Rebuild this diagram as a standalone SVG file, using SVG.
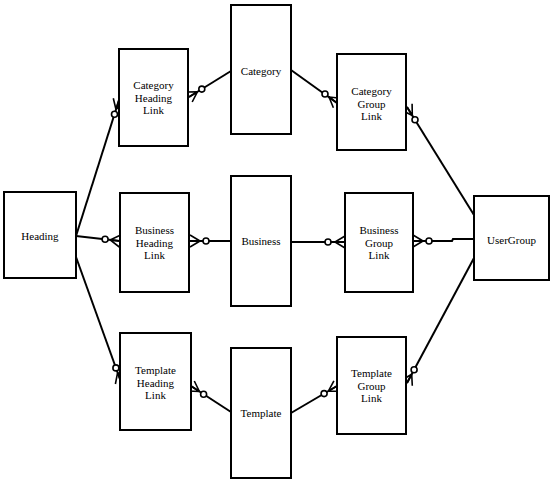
<svg xmlns="http://www.w3.org/2000/svg" width="553" height="483" viewBox="0 0 553 483">
<style>
.box{fill:#fff;stroke:#000;stroke-width:2}
.t{font-family:"Liberation Serif","Times New Roman",serif;font-size:11px;fill:#000;text-anchor:middle}
.ln{fill:none;stroke:#000;stroke-width:2}
.ft{fill:none;stroke:#000;stroke-width:1.6}
.c{fill:#fff;stroke:#000;stroke-width:1.6}
</style>
<rect width="553" height="483" fill="#fff"/>
<g id="connectors">
<!-- Heading - CHL -->
<path class="ln" d="M76,236 L119,100"/>
<path class="ft" d="M116,109.5 L119,100 M116,109.5 L124.7,101.8 M116,109.5 L113.3,98.2"/>
<circle class="c" cx="114.5" cy="114.3" r="3"/>
<!-- Heading - BHL -->
<path class="ln" d="M76,236 L120,241"/>
<path class="ft" d="M110.1,239.9 L120,241 M110.1,239.9 L119.3,247 M110.1,239.9 L120.7,235"/>
<circle class="c" cx="105.1" cy="239.3" r="3"/>
<!-- Heading - THL -->
<path class="ln" d="M76,257 L121,382"/>
<path class="ft" d="M117.6,372.6 L121,382 M117.6,372.6 L115.4,384 M117.6,372.6 L126.6,380"/>
<circle class="c" cx="115.9" cy="367.9" r="3"/>
<!-- Category - CHL -->
<path class="ln" d="M231,71 L189,97"/>
<path class="ft" d="M197.5,91.7 L189,97 M197.5,91.7 L192.2,102 M197.5,91.7 L185.8,92"/>
<circle class="c" cx="201.8" cy="89.1" r="3"/>
<!-- Category - CGL -->
<path class="ln" d="M291,70 L337,103"/>
<path class="ft" d="M329,97 L337,103 M329,97 L333.4,107.8 M329,97 L340.6,98.2"/>
<circle class="c" cx="325" cy="94" r="3"/>
<!-- UserGroup - CGL -->
<path class="ln" d="M474,215 L407,107"/>
<path class="ft" d="M412.3,115.5 L407,107 M412.3,115.5 L412.1,103.8 M412.3,115.5 L401.9,110.2"/>
<circle class="c" cx="415" cy="119.7" r="3"/>
<!-- Business - BHL -->
<path class="ln" d="M231,241 L190,241"/>
<path class="ft" d="M200,241 L190,241 M200,241 L190,235 M200,241 L190,247"/>
<circle class="c" cx="206" cy="241" r="3"/>
<!-- Business - BGL -->
<path class="ln" d="M291,242 L345,242"/>
<path class="ft" d="M335,242 L345,242 M335,242 L345,236 M335,242 L345,248"/>
<circle class="c" cx="328" cy="242" r="3"/>
<!-- UserGroup - BGL -->
<path class="ln" d="M474,239 L453,239 L452,241 L413,241"/>
<path class="ft" d="M423,241 L413,241 M423,241 L413,235 M423,241 L413,247"/>
<circle class="c" cx="429" cy="241" r="3"/>
<!-- Template - THL -->
<path class="ln" d="M231,412 L191,386"/>
<path class="ft" d="M199.4,391.5 L191,386 M199.4,391.5 L194.3,381 M199.4,391.5 L187.7,391"/>
<circle class="c" cx="203.6" cy="394.2" r="3"/>
<!-- Template - TGL -->
<path class="ln" d="M291,413 L337,386"/>
<path class="ft" d="M328.4,391.1 L337,386 M328.4,391.1 L340.1,391.2 M328.4,391.1 L333.9,380.8"/>
<circle class="c" cx="324.1" cy="393.6" r="3"/>
<!-- UserGroup - TGL -->
<path class="ln" d="M474,258 L407,383"/>
<path class="ft" d="M411.7,374.2 L407,383 M411.7,374.2 L401.7,380.2 M411.7,374.2 L412.3,385.8"/>
<circle class="c" cx="414.1" cy="369.8" r="3"/>
</g>
<g id="heading"><rect class="box" x="4" y="192" width="72" height="86"/><text class="t" x="40" y="240">Heading</text></g>
<g id="category-heading-link"><rect class="box" x="119" y="49" width="69" height="97"/><text class="t" x="153.5" y="89">Category</text><text class="t" x="153.5" y="101.5">Heading</text><text class="t" x="153.5" y="114">Link</text></g>
<g id="category"><rect class="box" x="231" y="5" width="60" height="129"/><text class="t" x="261" y="75">Category</text></g>
<g id="category-group-link"><rect class="box" x="337" y="54" width="69" height="96"/><text class="t" x="371.5" y="95">Category</text><text class="t" x="371.5" y="107.5">Group</text><text class="t" x="371.5" y="120">Link</text></g>
<g id="business-heading-link"><rect class="box" x="120" y="193" width="69" height="99"/><text class="t" x="154.5" y="234">Business</text><text class="t" x="154.5" y="246.5">Heading</text><text class="t" x="154.5" y="259">Link</text></g>
<g id="business"><rect class="box" x="231" y="176" width="60" height="130"/><text class="t" x="261" y="245">Business</text></g>
<g id="business-group-link"><rect class="box" x="345" y="193" width="68" height="99"/><text class="t" x="379" y="234">Business</text><text class="t" x="379" y="246.5">Group</text><text class="t" x="379" y="259">Link</text></g>
<g id="usergroup"><rect class="box" x="474" y="196" width="75" height="84"/><text class="t" x="511.5" y="244">UserGroup</text></g>
<g id="template-heading-link"><rect class="box" x="120" y="333" width="71" height="97"/><text class="t" x="155.5" y="374">Template</text><text class="t" x="155.5" y="386.5">Heading</text><text class="t" x="155.5" y="399">Link</text></g>
<g id="template"><rect class="box" x="231" y="348" width="60" height="130"/><text class="t" x="261" y="417">Template</text></g>
<g id="template-group-link"><rect class="box" x="337" y="337" width="69" height="97"/><text class="t" x="371.5" y="377">Template</text><text class="t" x="371.5" y="389.5">Group</text><text class="t" x="371.5" y="402">Link</text></g>
</svg>
